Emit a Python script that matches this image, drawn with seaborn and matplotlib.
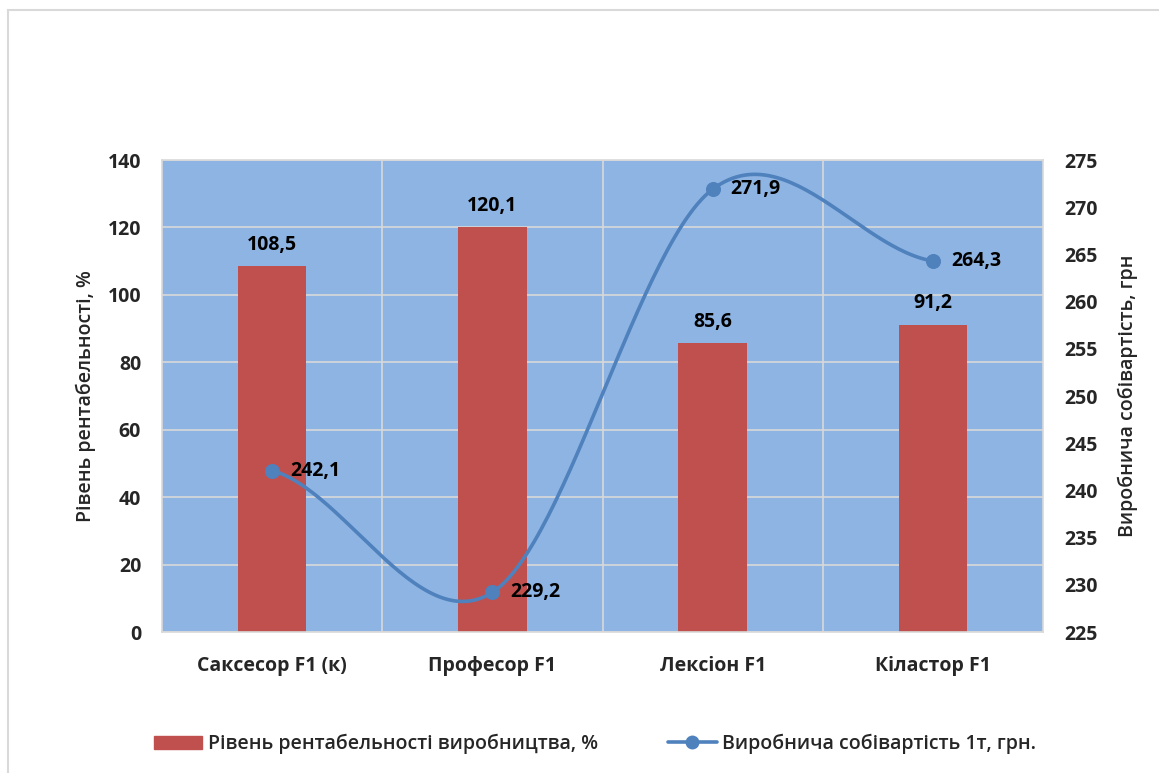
import numpy as np
import pandas as pd
import matplotlib
matplotlib.use("Agg")
import matplotlib.pyplot as plt
import seaborn as sns
from matplotlib.patches import Patch, Rectangle
from matplotlib.lines import Line2D

categories = ["Саксесор F1 (к)", "Професор F1", "Лексіон F1", "Кіластор F1"]
profitability = [108.5, 120.1, 85.6, 91.2]
cost = [242.1, 229.2, 271.9, 264.3]
left_ticks = [0, 20, 40, 60, 80, 100, 120, 140]
right_ticks = [225, 230, 235, 240, 245, 250, 255, 260, 265, 270, 275]
bar_label = "Рівень рентабельності виробництва, %"
line_label = "Виробнича собівартість 1т, грн."
left_ylabel = "Рівень рентабельності, %"
right_ylabel = "Виробнича собівартість, грн"

sns.set_style("white")
plt.rcParams['font.family'] = ['Open Sans', 'DejaVu Sans']

BAR_C = "#C0504D"
LINE_C = "#4F81BD"
BG = "#8EB4E3"
GRID = "#D9D9D9"
FS = 14

fig = plt.figure(figsize=(11.59, 7.73), dpi=100)
# outer frame
fig.patches.append(Rectangle((8/1159, -0.1), 1.2, 1 - 10/773 + 0.1, transform=fig.transFigure,
                             fill=False, edgecolor="#D9D9D9", linewidth=1.5))
ax = fig.add_axes([162/1159, 1-632/773, (1043-162)/1159, (632-160)/773])
ax.set_facecolor(BG)

df = pd.DataFrame({"cat": categories, "val": profitability})
sns.barplot(data=df, x="cat", y="val", color=BAR_C, width=0.31, saturation=1, ax=ax,
            linewidth=0, edgecolor=BAR_C, zorder=2)
ax.set_xlim(-0.5, 3.5)
ax.set_ylim(0, 140)
ax.set_yticks(left_ticks)
ax.yaxis.grid(True, color=GRID, linewidth=1.2, zorder=0)
ax.set_axisbelow(True)
for xb in [0.5, 1.5, 2.5]:
    ax.axvline(xb, color=GRID, linewidth=1.2, zorder=1)
for s in ax.spines.values():
    s.set_color(GRID)
    s.set_linewidth(1.2)
ax.tick_params(axis='y', length=0, pad=15, labelsize=FS)
ax.tick_params(axis='x', length=0, pad=17, labelsize=FS)
for t in ax.get_yticklabels() + ax.get_xticklabels():
    t.set_fontweight('bold')
ax.set_xlabel("")
ax.set_ylabel(left_ylabel, fontsize=FS, fontweight='semibold', labelpad=8)
for i, v in enumerate(profitability):
    ax.annotate(f"{v:.1f}".replace(".", ","), (i, v), xytext=(0, 8), textcoords="offset points",
                ha="center", va="bottom", fontsize=FS, fontweight='bold', color="black", zorder=5)

ax2 = ax.twinx()
ax2.set_ylim(225, 275)
ax2.set_yticks(right_ticks)
ax2.tick_params(axis='y', length=0, pad=15, labelsize=FS)
for t in ax2.get_yticklabels():
    t.set_fontweight('bold')
for s in ax2.spines.values():
    s.set_visible(False)
ax2.set_ylabel(right_ylabel, fontsize=FS, fontweight='semibold', labelpad=15)

# smoothed line (Catmull-Rom / Excel-like smoothing)
xs = np.arange(len(cost), dtype=float)
ys = np.array(cost, dtype=float)
m = np.zeros_like(ys)
m[1:-1] = (ys[2:] - ys[:-2]) / 2
m[0] = (ys[1] - ys[0]) / 2
m[-1] = (ys[-1] - ys[-2]) / 2
cx, cy = [], []
for i in range(len(ys) - 1):
    t = np.linspace(0, 1, 60)
    h00 = 2*t**3 - 3*t**2 + 1
    h10 = t**3 - 2*t**2 + t
    h01 = -2*t**3 + 3*t**2
    h11 = t**3 - t**2
    cx.extend(xs[i] + t)
    cy.extend(h00*ys[i] + h10*m[i] + h01*ys[i+1] + h11*m[i+1])
ax2.plot(cx, cy, color=LINE_C, linewidth=2.6, solid_capstyle='round', zorder=3)
sns.scatterplot(x=xs, y=ys, color=LINE_C, s=100, edgecolor=LINE_C, ax=ax2, zorder=4, legend=False)
for i, v in enumerate(cost):
    ax2.annotate(f"{v:.1f}".replace(".", ","), (xs[i], v), xytext=(13, 0), textcoords="offset points",
                 ha="left", va="center", fontsize=FS, fontweight='bold', color="black", zorder=5)
ax2.set_xlim(-0.5, 3.5)

handles = [Patch(facecolor=BAR_C, edgecolor=BAR_C),
           Line2D([0], [0], color=LINE_C, linewidth=2.6, marker='o', markersize=9)]
fig.legend(handles, [bar_label, line_label], loc="center", bbox_to_anchor=(595/1159, 1-744/773),
           ncol=2, frameon=False, columnspacing=3.6, handlelength=2.5,
           handletextpad=0.3, prop={'size': FS, 'weight': 'semibold'})

fig.savefig("out.png", dpi=100)
